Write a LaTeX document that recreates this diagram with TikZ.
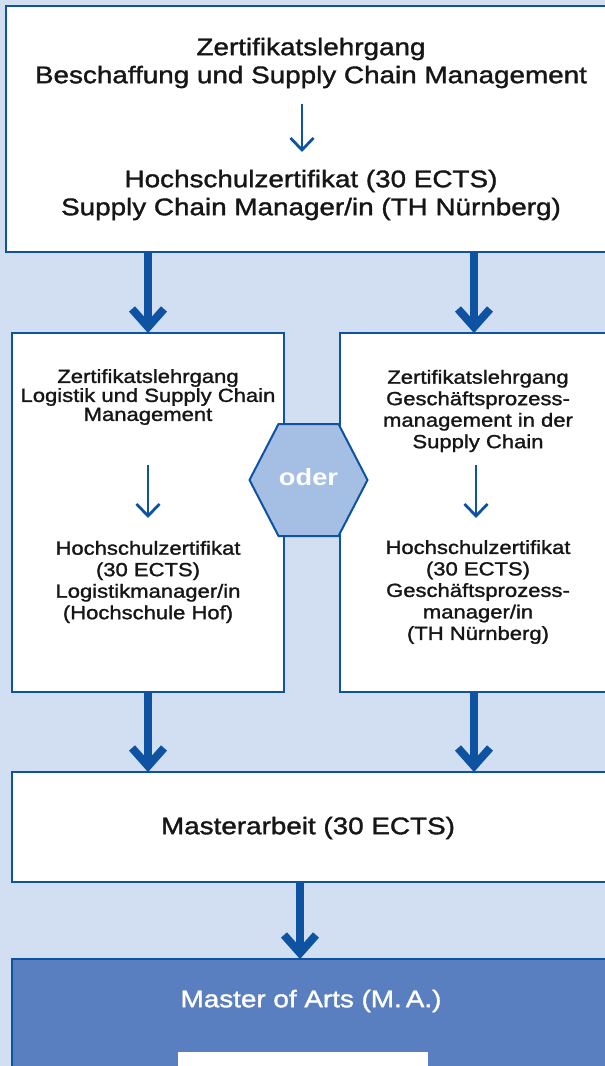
\documentclass[tikz,border=0pt]{standalone}
\usepackage{fontspec}
\setmainfont{Liberation Sans}[FakeStretch=1.16, UprightFeatures={FakeBold=1.4}]
\usetikzlibrary{arrows.meta,calc}
\definecolor{bgblue}{HTML}{D2DEF1}
\definecolor{dblue}{HTML}{0D53A2}
\definecolor{hexblue}{HTML}{A5BFE4}
\definecolor{mablue}{HTML}{5A7FC0}
\definecolor{txt}{HTML}{161616}
\begin{document}
\begin{tikzpicture}[x=1pt,y=-1pt,
  box/.style={draw=dblue, fill=white, line width=2.5pt, inner sep=0pt, outer sep=0pt},
  bigtxt/.style={text=txt, align=center, inner sep=0pt, font=\fontsize{24}{28}\selectfont},
  smalltxt/.style={text=txt, align=center, inner sep=0pt, font=\fontsize{19}{21.5}\selectfont},
  bigarrow/.style={draw=dblue, line width=8pt, -{Straight Barb[length=18pt, width=32pt, sharp]}},
  smallarrow/.style={draw=dblue, line width=2.8pt, -{Straight Barb[length=12pt, width=23pt, sharp]}}
]
\useasboundingbox (0,0) rectangle (605,1066);
\fill[bgblue] (0,0) rectangle (605,1066);

% top box
\node[box, minimum width=614pt, minimum height=246pt] (top) at (313,129) {};
\node[bigtxt] (t1) at (311,63) {Zertifikatslehrgang\\Beschaffung und Supply Chain Management};
\node[bigtxt] (t2) at (311,195) {Hochschulzertifikat (30 ECTS)\\Supply Chain Manager/in (TH Nürnberg)};
\draw[smallarrow] (302,104) -- (302,152);

% middle boxes
\node[box, minimum width=272pt, minimum height=359pt] (lb) at (148,512.5) {};
\node[box, minimum width=280pt, minimum height=359pt] (rb) at (480,512.5) {};

\node[text=txt, align=center, inner sep=0pt, font=\fontsize{19}{19}\selectfont] (l1) at (148,397)
  {Zertifikatslehrgang\\Logistik und Supply Chain\\Management};
\node[smalltxt] (l2) at (148,582) {Hochschulzertifikat\\(30 ECTS)\\Logistikmanager/in\\(Hochschule Hof)};
\node[smalltxt] (r1) at (478,411) {Zertifikatslehrgang\\Geschäftsprozess-\\management in der\\Supply Chain};
\node[smalltxt] (r2) at (478,592) {Hochschulzertifikat\\(30 ECTS)\\Geschäftsprozess-\\manager/in\\(TH Nürnberg)};
\draw[smallarrow] (148,465) -- (148,518);
\draw[smallarrow] (476,465) -- (476,518);

% hexagon
\coordinate (hc) at (308.5,480);
\filldraw[fill=hexblue, draw=dblue, line width=2pt]
  ($(hc)+(-59,0)$) -- ($(hc)+(-30,-56)$) -- ($(hc)+(30,-56)$) -- ($(hc)+(59,0)$)
  -- ($(hc)+(30,56)$) -- ($(hc)+(-30,56)$) -- cycle;
\node[text=white, inner sep=0pt, font=\fontsize{23.5}{28}\selectfont\bfseries] (oder) at ($(hc)+(0,-3)$) {oder};

% master thesis
\node[box, minimum width=608pt, minimum height=110pt] (ma) at (316,827) {};
\node[bigtxt] (mat) at (308,828) {Masterarbeit (30 ECTS)};

% final
\node[box, fill=mablue, minimum width=608pt, minimum height=125pt] (fin) at (316,1021.5) {};
\node[bigtxt, text=white] (fint) at (311,1001) {Master of Arts (M.\,A.)};
\fill[white] (178,1052) rectangle (428,1070);

% big arrows
\draw[bigarrow] (148,0 |- top.south) -- (148,0 |- lb.north);
\draw[bigarrow] (474,0 |- top.south) -- (474,0 |- rb.north);
\draw[bigarrow] (148,0 |- lb.south) -- (148,0 |- ma.north);
\draw[bigarrow] (474,0 |- rb.south) -- (474,0 |- ma.north);
\draw[bigarrow] (300,0 |- ma.south) -- (300,0 |- fin.north);
\end{tikzpicture}
\end{document}
